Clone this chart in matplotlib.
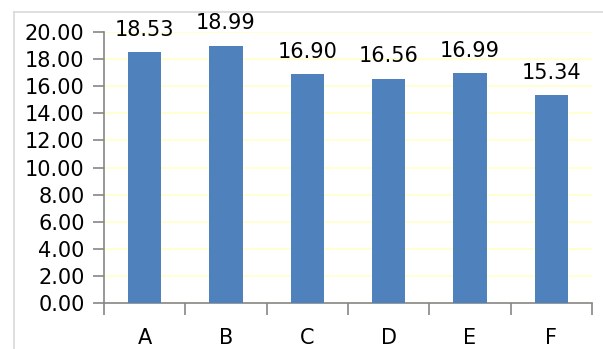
import matplotlib
matplotlib.use("Agg")
import matplotlib.pyplot as plt
from matplotlib.lines import Line2D

categories = ["A", "B", "C", "D", "E", "F"]
values = [18.53, 18.99, 16.90, 16.56, 16.99, 15.34]
y_ticks = [0, 2, 4, 6, 8, 10, 12, 14, 16, 18, 20]

bar_color = "#4F81BD"
axis_grey = "#868686"
grid_yellow = "#FFFFC8"

plt.rcParams["font.family"] = ["DejaVu Sans"]
fsize = 15

fig = plt.figure(figsize=(6.03, 3.49), dpi=100)
ax = fig.add_axes([104 / 603, 1 - 303 / 349, 488 / 603, 271 / 349])

x = list(range(len(categories)))
ax.bar(x, values, width=0.41, color=bar_color, zorder=3)

for xi, v in zip(x, values):
    ax.annotate(f"{v:.2f}", (xi, v), xytext=(0, 16), textcoords="offset points",
                ha="center", va="center", fontsize=fsize, color="black")

ax.set_xlim(-0.5, len(categories) - 0.5)
ax.set_ylim(0, 20)
ax.set_yticks(y_ticks)
ax.set_yticklabels([f"{t:.2f}" for t in y_ticks])
ax.set_xticks(x)
ax.set_xticklabels(categories)
ax.set_xticks([i - 0.5 for i in range(len(categories) + 1)], minor=True)

ax.grid(axis="y", color=grid_yellow, linewidth=1.2, zorder=0)
ax.set_axisbelow(True)

for side in ("top", "right"):
    ax.spines[side].set_visible(False)
for side in ("left", "bottom"):
    ax.spines[side].set_color(axis_grey)
    ax.spines[side].set_linewidth(1.2)

ax.tick_params(axis="y", which="major", length=8, width=1.2, color=axis_grey,
               labelsize=fsize, pad=6)
ax.tick_params(axis="x", which="major", length=0, labelsize=fsize, pad=18)
ax.tick_params(axis="x", which="minor", length=8.5, width=1.2, color=axis_grey)

# light frame around the chart area
fig.add_artist(Line2D([13.5 / 603, 13.5 / 603], [0, 1 - 11.5 / 349],
                      transform=fig.transFigure, color="#D9D9D9", linewidth=1.2))
fig.add_artist(Line2D([13.5 / 603, 1], [1 - 11.5 / 349, 1 - 11.5 / 349],
                      transform=fig.transFigure, color="#D9D9D9", linewidth=1.2))

fig.savefig("out.png", dpi=100)
